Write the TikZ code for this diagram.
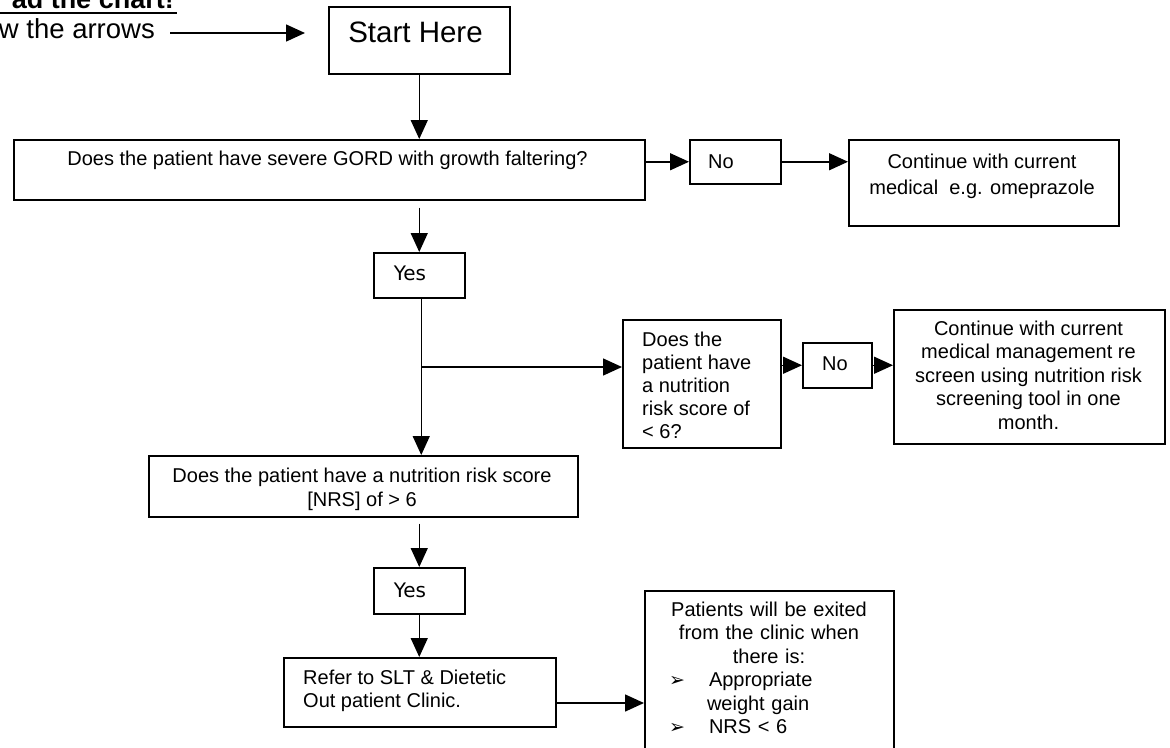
\documentclass[tikz,border=0pt]{standalone}
\usepackage{fontspec}
\setmainfont{Liberation Sans}
\newfontfamily\dvs{DejaVu Sans}
\usetikzlibrary{arrows.meta,calc}
\newcommand\fsz[2]{\fontsize{#1}{#2}\selectfont}
\begin{document}
\begin{tikzpicture}[x=1pt,y=-1pt,
  box/.style={draw, line width=1.5pt, inner sep=0pt, anchor=north west},
  lbl/.style={inner sep=0pt, font=\fsz{20}{23.5}},
  yesf/.style={inner sep=0pt, font=\dvs\fsz{20}{22}},
  arr/.style={line width=1.5pt, -{Triangle[length=19pt,width=17pt]}},
  ln/.style={line width=1.5pt}]
\useasboundingbox (0,0) rectangle (1170,747);
\clip (0,0) rectangle (1170,747);

% boxes
\node[box, minimum width=181pt, minimum height=67pt] (start) at (328,6) {};
\node[box, minimum width=631pt, minimum height=60pt] (gord) at (13,139) {};
\node[box, minimum width=91pt, minimum height=44pt] (no1) at (689,139) {};
\node[box, minimum width=270pt, minimum height=86pt] (cont1) at (848,139) {};
\node[box, minimum width=91pt, minimum height=45pt] (yes1) at (373,252) {};
\node[box, minimum width=158pt, minimum height=128pt] (q6) at (622,319) {};
\node[box, minimum width=69pt, minimum height=45pt] (no2) at (802,342) {};
\node[box, minimum width=271pt, minimum height=134pt] (cont2) at (893,309) {};
\node[box, minimum width=429pt, minimum height=61pt] (nrs) at (148,455) {};
\node[box, minimum width=91pt, minimum height=46pt] (yes2) at (373,567) {};
\node[box, minimum width=272pt, minimum height=69pt] (refer) at (283,657) {};
\node[box, minimum width=249pt, minimum height=180pt] (exit) at (644,590) {};

% texts
\node[anchor=base east, inner sep=0pt, font=\bfseries\fsz{27}{30}] (t0) at (174,8.5) {ad the chart!};
\draw[line width=2.2pt] ($(t0.base west)+(-20,4.5)$) -- ($(t0.base east)+(3,4.5)$);
\node[anchor=base east, inner sep=0pt, font=\fsz{27.5}{30}] (t1) at (155,38) {w the arrows};
\node[anchor=base, inner sep=0pt, font=\fsz{29.5}{34}] (tstart) at (415.5,42) {Start Here};
\node[lbl, anchor=base] (tgord) at (327.5,165) {Does the patient have severe GORD with growth faltering?};
\node[lbl, anchor=base] (tno1) at (721,168) {No};
\node[lbl, anchor=north, align=center, font=\fsz{20}{26.5}] (tcont1) at (982,153.5)
  {Continue with current\\medical\ \ e.g. omeprazole};
\node[yesf, anchor=base] (tyes1) at (410,280) {Yes};
\node[lbl, anchor=north west, align=left, font=\fsz{20}{23.2}] (tq6) at (642,331.5)
  {Does the\\patient have\\a nutrition\\risk score of\\< 6?};
\node[lbl, anchor=base] (tno2) at (835,370) {No};
\node[lbl, anchor=north, align=center] (tcont2) at (1028.5,320.5)
  {Continue with current\\medical management re\\screen using nutrition risk\\screening tool in one\\month.};
\node[lbl, anchor=north, align=center, font=\fsz{20}{24}] (tnrs) at (362,467.5)
  {Does the patient have a nutrition risk score\\{[NRS]} of > 6};
\node[yesf, anchor=base] (tyes2) at (410,597) {Yes};
\node[lbl, anchor=north west, align=left] (trefer) at (303,669.5)
  {Refer to SLT \& Dietetic\\Out patient Clinic.};
\node[lbl, anchor=north, align=center, text width=240pt] (texit) at (769,601.5)
  {Patients will be exited\\from the clinic when\\there is:\\
   \makebox[240pt][l]{\hspace{20pt}\makebox[40pt][l]{\dvs\fsz{19}{19}➢}Appropriate}\\
   \makebox[240pt][l]{\hspace{58pt}weight gain}\\
   \makebox[240pt][l]{\hspace{20pt}\makebox[40pt][l]{\dvs\fsz{19}{19}➢}NRS < 6}};

% connectors
\coordinate (a1) at (170,33);
\coordinate (a2) at (305,33);
\draw[arr] (a1) -- (a2);
\draw[arr] (start.south) -- (start.south |- gord.north);
\draw[arr] (gord.east |- no1.west) -- (no1.west);
\draw[arr] (no1.east) -- (no1.east -| cont1.west);
\draw[arr, shorten <=7pt] (yes1.north |- gord.south) -- (yes1.north);
\coordinate (yb) at ($(yes1.south)+(2,0)$);
\draw[arr] (yb) -- (yb |- nrs.north);
\coordinate (h1) at (0,367);
\coordinate (j1) at (yb |- h1);
\draw[arr] (j1) -- (j1 -| q6.west);
\draw[arr] (no2.west -| q6.east) -- (no2.west);
\draw[arr] (no2.east) -- (no2.east -| cont2.west);
\draw[arr, shorten <=6pt] (yes2.north |- nrs.south) -- (yes2.north);
\draw[arr] (yes2.south) -- (yes2.south |- refer.north);
\coordinate (h2) at (0,703);
\draw[arr] (refer.east |- h2) -- (exit.west |- h2);
\end{tikzpicture}
\end{document}
